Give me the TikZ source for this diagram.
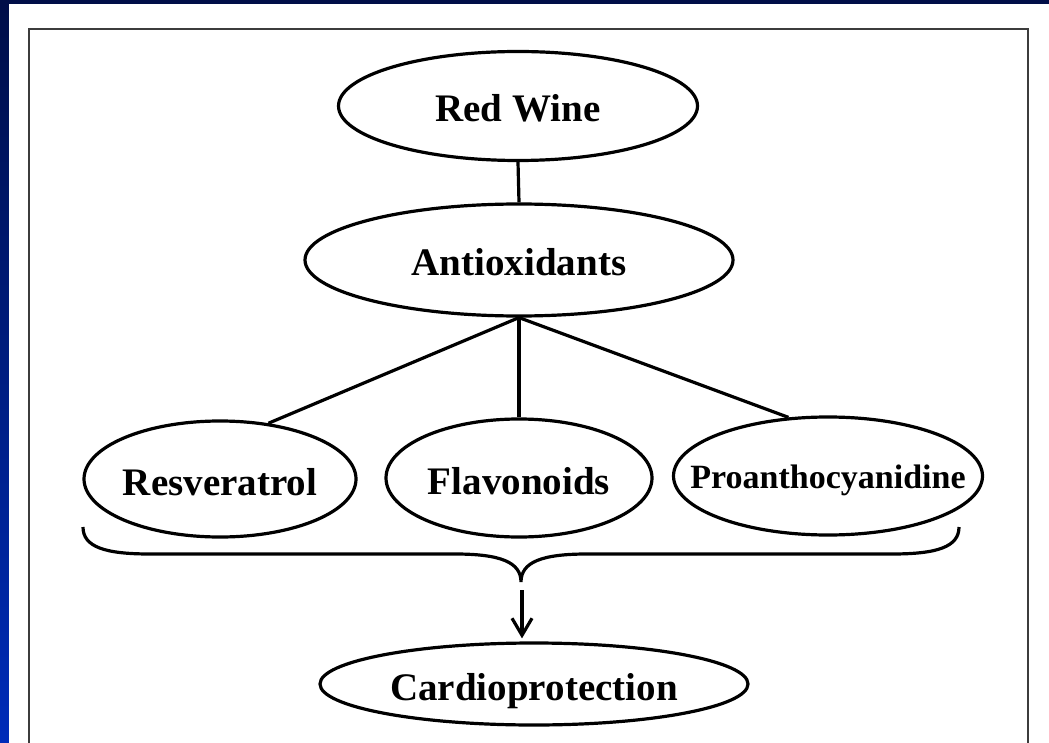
\documentclass[tikz,border=0pt]{standalone}
\usepackage{fontspec}
\setmainfont{Liberation Serif}
\usetikzlibrary{shapes.geometric,arrows.meta}
\definecolor{navy}{RGB}{0,14,72}
\definecolor{royal}{RGB}{0,44,185}
\definecolor{framegray}{RGB}{60,60,60}
\begin{document}
\begin{tikzpicture}[x=1pt,y=-1pt,
  oval/.style={ellipse,draw=black,line width=3.2pt,inner sep=0pt,
    font=\fontsize{39}{44}\selectfont\bfseries,text height=32pt,text depth=0pt},
  smalloval/.style={oval,font=\fontsize{34}{40}\selectfont\bfseries,text height=24pt},
  conn/.style={line width=3.2pt}]
\useasboundingbox (0,0) rectangle (1049,743);
\shade[top color=navy,bottom color=royal] (0,0) rectangle (1049,743);
\fill[white] (9,4) rectangle (1049,743);
\draw[framegray,line width=2.6pt] (29,750) -- (29,29) -- (1028,29) -- (1028,750);

\node[oval,minimum width=359pt,minimum height=109pt] (wine) at (518,106) {\makebox[0pt]{Red Wine}};
\node[oval,minimum width=428pt,minimum height=112pt] (anti) at (519,260) {\makebox[0pt]{Antioxidants}};
\node[oval,minimum width=272pt,minimum height=116pt] (res) at (220,479) {\makebox[0pt]{Resveratrol}};
\node[oval,minimum width=266pt,minimum height=118pt] (flav) at (519,478) {\makebox[0pt]{Flavonoids}};
\node[smalloval,minimum width=309pt,minimum height=118pt] (pro) at (828,476) {\makebox[0pt]{Proanthocyanidine}};
\node[oval,minimum width=428pt,minimum height=82pt] (cardio) at (534,684) {\makebox[0pt]{Cardioprotection}};

\draw[conn] (wine.south) -- (anti.north);
\draw[conn] (anti.south) -- (res.49);
\draw[conn] (anti.south) -- (flav.north);
\draw[conn] (anti.south) -- (pro.124);

\coordinate (bl) at (83,527);
\coordinate (br) at (959,527);
\coordinate (tip) at (521,582);
\coordinate (astart) at (522,590);
\draw[conn] (bl) .. controls (83,547) and (105,554) .. (150,554) -- (455,554)
  .. controls (500,554) and (521,562) .. (tip)
  .. controls (521,562) and (542,554) .. (587,554) -- (892,554)
  .. controls (937,554) and (959,547) .. (br);
\draw[conn,-{Straight Barb[length=17pt,width=20pt,line width=3.2pt]},shorten >=3pt] (astart) -- (astart |- cardio.north);
\end{tikzpicture}
\end{document}
